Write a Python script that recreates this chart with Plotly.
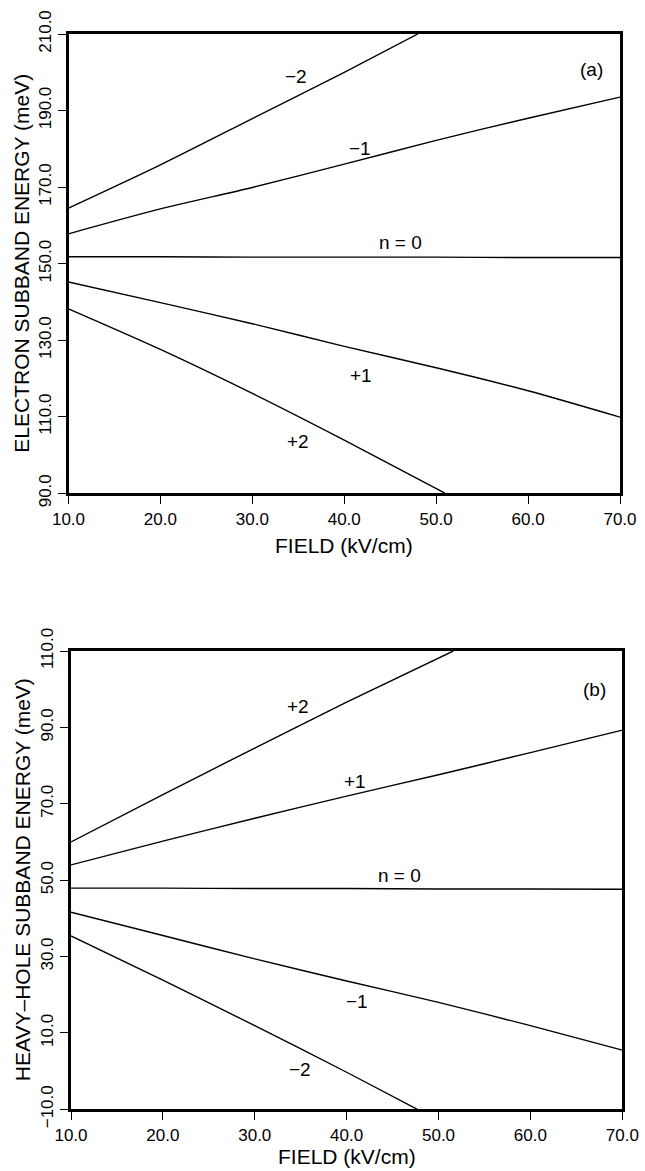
import plotly.graph_objects as go

# Field axis samples (kV/cm)
field = [10, 20, 30, 40, 50, 60, 70]

# (a) electron subband energies (meV) for Wannier-Stark index n
e_n0 = [151.8, 151.8, 151.7, 151.7, 151.7, 151.6, 151.6]
e_m1 = [157.8, 164.3, 169.9, 176.0, 182.2, 188.0, 193.5]
e_p1 = [145.2, 139.8, 134.3, 128.4, 122.8, 116.8, 109.9]
e_m2_field = [10, 20, 30, 40, 48.0]
e_m2 = [164.5, 175.8, 187.9, 200.0, 210.0]
e_p2_field = [10, 20, 30, 40, 51.0]
e_p2 = [138.2, 127.6, 116.1, 103.9, 90.0]

# (b) heavy-hole subband energies (meV)
h_n0 = [47.9, 47.9, 47.8, 47.8, 47.7, 47.7, 47.6]
h_p1 = [54.0, 60.2, 66.2, 72.0, 77.6, 83.4, 89.3]
h_m1 = [41.6, 35.5, 29.4, 23.6, 18.0, 11.9, 5.5]
h_p2_field = [10, 20, 30, 40, 51.6]
h_p2 = [60.0, 72.4, 84.6, 96.6, 110.0]
h_m2_field = [10, 20, 30, 40, 47.7]
h_m2 = [35.4, 23.8, 11.9, -0.3, -10.0]

x_ticks = [10, 20, 30, 40, 50, 60, 70]
e_ticks = [90, 110, 130, 150, 170, 190, 210]
h_ticks = [-10, 10, 30, 50, 70, 90, 110]

# Curve labels: (text, field, energy)
e_labels = [("\u22122", 34.8, 198.9), ("\u22121", 41.7, 180.2), ("n = 0", 46.1, 155.4),
            ("+1", 41.8, 120.9), ("+2", 35.0, 103.5), ("(a)", 66.9, 200.7)]
h_labels = [("+2", 34.7, 95.4), ("+1", 40.9, 75.8), ("n = 0", 45.8, 51.3),
            ("\u22121", 41.1, 18.2), ("\u22122", 34.9, 0.3), ("(b)", 67.0, 99.8)]

W, H = 645, 1171
FONT = "Liberation Sans, Arial, sans-serif"
line = dict(color="black", width=1.4, shape="spline", smoothing=0.8)

fig = go.Figure()

def add_curve(x, y, xa, ya):
    fig.add_trace(go.Scatter(x=x, y=y, mode="lines", line=line,
                             xaxis=xa, yaxis=ya, showlegend=False, hoverinfo="skip"))

add_curve(field, e_n0, "x", "y")
add_curve(field, e_m1, "x", "y")
add_curve(field, e_p1, "x", "y")
add_curve(e_m2_field, e_m2, "x", "y")
add_curve(e_p2_field, e_p2, "x", "y")

add_curve(field, h_n0, "x2", "y2")
add_curve(field, h_p1, "x2", "y2")
add_curve(field, h_m1, "x2", "y2")
add_curve(h_p2_field, h_p2, "x2", "y2")
add_curve(h_m2_field, h_m2, "x2", "y2")

# plot-area edges in pixels
a_box = dict(l=68.5, r=620.0, t=34.0, b=493.3)
b_box = dict(l=71.0, r=622.3, t=651.0, b=1109.3)

def xdom(box):
    return [box["l"] / W, box["r"] / W]

def ydom(box):
    return [1 - box["b"] / H, 1 - box["t"] / H]

axis_common = dict(
    showline=True, linecolor="black", linewidth=2.6, mirror=True,
    ticks="outside", ticklen=8, tickwidth=1.4, tickcolor="black",
    showgrid=False, zeroline=False, automargin=False,
    tickfont=dict(family=FONT, size=17, color="black"),
    tickformat=".1f",
)

fig.update_layout(
    width=W, height=H,
    margin=dict(l=0, r=0, t=0, b=0),
    paper_bgcolor="white", plot_bgcolor="white",
    xaxis=dict(domain=xdom(a_box), range=[10, 70], tickvals=x_ticks, anchor="y", **axis_common),
    yaxis=dict(domain=ydom(a_box), range=[90, 210], tickvals=e_ticks, anchor="x",
               tickangle=-90, **axis_common),
    xaxis2=dict(domain=xdom(b_box), range=[10, 70], tickvals=x_ticks, anchor="y2", **axis_common),
    yaxis2=dict(domain=ydom(b_box), range=[-10, 110], tickvals=h_ticks, anchor="x2",
                tickangle=-90, **axis_common),
)

ann_font = dict(family=FONT, size=19, color="black")
for text, fx, ey in e_labels:
    fig.add_annotation(text=text, x=fx, y=ey, xref="x", yref="y", showarrow=False, font=ann_font)
for text, fx, ey in h_labels:
    fig.add_annotation(text=text, x=fx, y=ey, xref="x2", yref="y2", showarrow=False, font=ann_font)

# Axis titles
title_font = dict(family=FONT, size=21, color="black")
for box, text in [(a_box, "ELECTRON SUBBAND ENERGY (meV)"),
                  (b_box, "HEAVY\u2013HOLE SUBBAND ENERGY (meV)")]:
    fig.add_annotation(text=text, textangle=-90, xref="paper", yref="paper",
                       x=22 / W, y=1 - (box["t"] + box["b"]) / 2 / H,
                       xanchor="center", yanchor="middle",
                       showarrow=False, font=title_font)
for box, ty in [(a_box, 545), (b_box, 1156)]:
    fig.add_annotation(text="FIELD (kV/cm)", xref="paper", yref="paper",
                       x=(box["l"] + box["r"]) / 2 / W, y=1 - ty / H,
                       xanchor="center", yanchor="middle",
                       showarrow=False, font=title_font)

fig.write_html("out.html")
